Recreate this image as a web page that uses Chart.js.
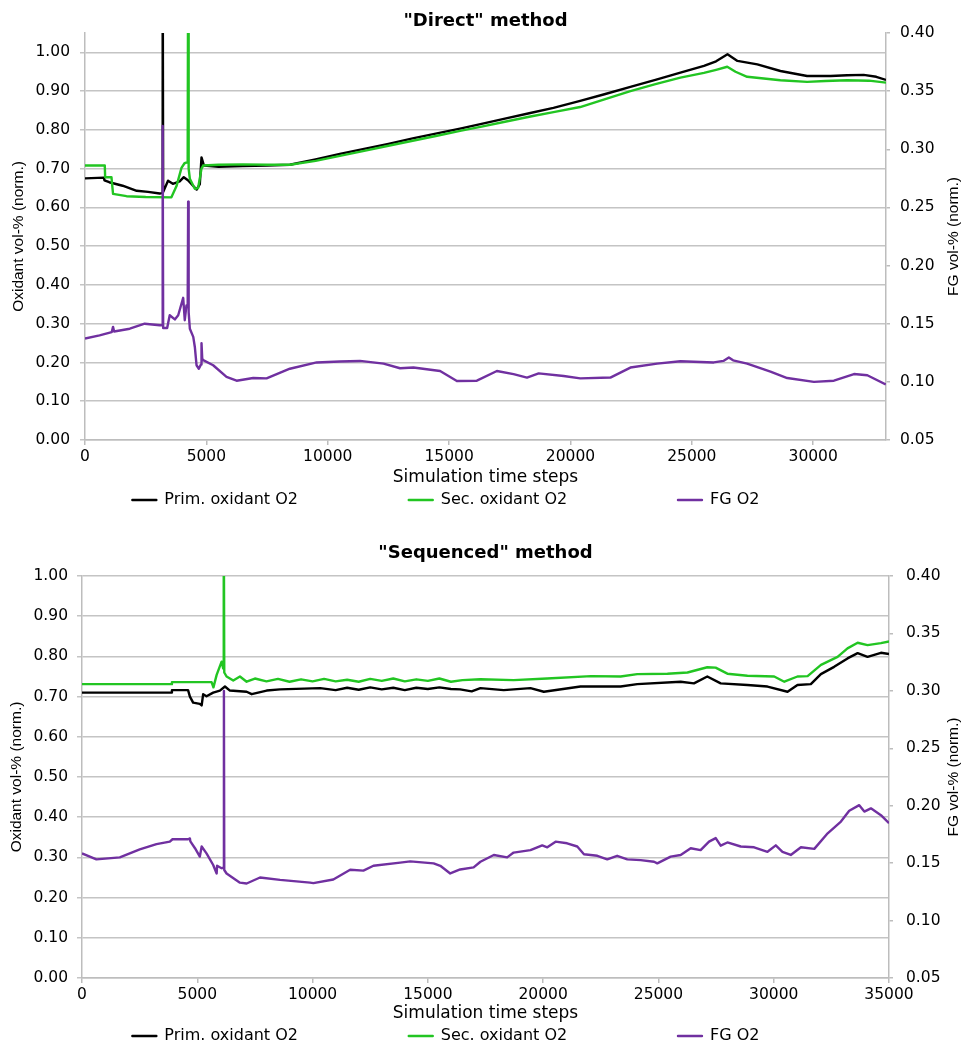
<!DOCTYPE html>
<html><head><meta charset="utf-8">
<script src="https://cdn.jsdelivr.net/npm/chart.js@4.4.1/dist/chart.umd.min.js"></script>
<style>
html,body{margin:0;padding:0;background:#fff;overflow:hidden;width:963px;height:1046px;}
#c1{position:absolute;left:0;top:0;}
#c2{position:absolute;left:0;top:520px;}
</style></head><body>
<canvas id="c1" width="963" height="520"></canvas>
<canvas id="c2" width="963" height="540"></canvas>
<script>
// ---------- DATA ----------
const seriesNames = ['Prim. oxidant O2', 'Sec. oxidant O2', 'FG O2'];
const chartTitles = ['"Direct" method', '"Sequenced" method'];
const xTitle = 'Simulation time steps';
const yLeftTitle = 'Oxidant vol-% (norm.)';
const yRightTitle = 'FG vol-% (norm.)';

// "Direct" method
const directPrimX = [0,780,800,1000,1550,2130,2600,3080,3180,3200,
  3220,3420,3620,3900,4070,4240,4450,4600,4730,4800,
  4900,5500,6500,7500,8440,9500,10500,11500,12500,13500,
  14500,15500,16290,17300,18300,19300,20400,21400,22470,23500,
  24530,25500,26000,26470,26880,27700,28650,29750,30720,31400,
  32080,32600,33000];
const directPrimY = [0.675,0.677,0.670,0.665,0.656,0.643,0.640,0.636,0.637,1.3,
  0.640,0.669,0.661,0.667,0.678,0.670,0.656,0.646,0.660,0.729,
  0.708,0.705,0.707,0.708,0.710,0.724,0.738,0.751,0.764,0.778,
  0.791,0.804,0.815,0.829,0.843,0.857,0.875,0.892,0.911,0.929,
  0.948,0.965,0.977,0.995,0.978,0.969,0.952,0.939,0.939,0.941,
  0.942,0.937,0.929];
const directSecX = [0,815,830,1090,1155,1710,2500,3560,3770,3975,
  4100,4200,4230,4250,4270,4320,4525,4660,4800,4870,
  5500,6500,7500,8440,9500,10500,11500,12500,13500,14500,
  15500,16290,17300,18300,19300,20400,21400,22470,23500,24530,
  25500,26000,26460,26800,27280,28650,29750,30500,31400,32300,
  33000];
const directSecY = [0.708,0.708,0.678,0.678,0.635,0.629,0.627,0.626,0.655,0.702,
  0.714,0.716,0.716,1.3,0.700,0.674,0.648,0.650,0.700,0.708,
  0.710,0.711,0.710,0.710,0.720,0.733,0.746,0.759,0.772,0.785,
  0.798,0.808,0.821,0.834,0.846,0.859,0.879,0.900,0.918,0.935,
  0.947,0.955,0.963,0.950,0.937,0.928,0.924,0.926,0.928,0.927,
  0.922];
const directFgX = [0,600,1100,1155,1200,1845,2460,3080,3180,3200,
  3220,3385,3490,3700,3840,4045,4110,4180,4230,4250,
  4270,4320,4460,4525,4595,4690,4780,4800,4830,4870,
  5280,5830,6245,6930,7480,8440,9545,10500,11330,12300,
  12980,13530,14630,15320,16145,16970,17655,18210,18690,19720,
  20405,21645,22470,23570,24530,25905,26300,26525,26700,27280,
  28240,28930,30030,30855,31680,32230,32990];
const directFgY = [0.1373,0.1400,0.1427,0.1473,0.1433,0.1457,0.1500,0.1487,0.1487,0.3200,
  0.1463,0.1463,0.1573,0.1537,0.1573,0.1723,0.1530,0.1657,0.1650,0.2550,
  0.1600,0.1457,0.1387,0.1300,0.1143,0.1113,0.1150,0.1333,0.1200,0.1187,
  0.1143,0.1043,0.1010,0.1033,0.1030,0.1113,0.1167,0.1175,0.1180,0.1157,
  0.1117,0.1123,0.1093,0.1007,0.1010,0.1093,0.1067,0.1037,0.1073,0.1050,
  0.1030,0.1037,0.1123,0.1157,0.1177,0.1167,0.1180,0.1210,0.1185,0.1157,
  0.1087,0.1033,0.1000,0.1010,0.1067,0.1057,0.0977];

// "Sequenced" method
const seqPrimX = [0,3880,3900,4600,4680,4820,5110,5190,5255,5400,
  5690,5980,6200,6415,7140,7360,8010,8590,10330,11000,
  11500,12000,12500,13000,13500,14000,14500,15000,15500,16000,
  16400,16900,17280,18290,19450,20030,21620,23360,24080,25965,
  26540,27120,27700,28860,29730,30600,31030,31610,32045,32620,
  33200,33640,34070,34650,35000];
const seqPrimY = [0.710,0.710,0.716,0.716,0.700,0.685,0.682,0.678,0.706,0.701,
  0.710,0.715,0.725,0.715,0.712,0.706,0.715,0.718,0.721,0.716,
  0.722,0.717,0.723,0.718,0.722,0.716,0.722,0.719,0.723,0.719,
  0.718,0.713,0.721,0.716,0.721,0.712,0.725,0.725,0.731,0.737,
  0.733,0.750,0.733,0.729,0.725,0.712,0.729,0.731,0.756,0.774,
  0.795,0.808,0.799,0.809,0.806];
const seqSecX = [0,3880,3900,5620,5700,5840,6055,6125,6140,6155,
  6170,6270,6560,6850,7140,7500,8000,8500,9000,9500,
  10000,10500,11000,11500,12000,12500,13000,13500,14000,14500,
  15000,15500,16000,16500,17280,18720,20170,22080,23360,24080,
  25390,26260,27120,27480,27990,28860,30020,30460,31030,31470,
  32050,32770,33200,33640,34070,34650,35000];
const seqSecY = [0.731,0.731,0.736,0.736,0.723,0.754,0.787,0.770,0.780,1.2,
  0.760,0.750,0.740,0.750,0.737,0.745,0.738,0.744,0.737,0.743,
  0.738,0.744,0.738,0.742,0.737,0.744,0.739,0.745,0.738,0.743,
  0.739,0.745,0.737,0.741,0.743,0.741,0.745,0.751,0.750,0.756,
  0.757,0.760,0.773,0.772,0.757,0.752,0.750,0.737,0.750,0.751,
  0.779,0.799,0.820,0.834,0.828,0.833,0.837];
const seqFgX = [0,625,1640,2505,3230,3810,3925,4605,4680,4700,
  4900,5110,5190,5400,5690,5840,5860,6055,6140,6155,
  6170,6270,6850,7140,7720,8590,9890,10035,10900,11630,
  12205,12640,13800,14235,15250,15540,15970,16400,16985,17280,
  17860,18440,18720,19450,19960,20180,20540,21040,21480,21770,
  22350,22780,23210,23650,24230,24810,24950,25530,25965,26400,
  26830,27195,27485,27700,27990,28570,29150,29730,30090,30380,
  30740,31180,31760,32340,32915,33275,33710,33930,34215,34650,
  35000];
const seqFgY = [0.1585,0.1533,0.1550,0.1620,0.1666,0.1687,0.1708,0.1708,0.1715,0.1690,
  0.1630,0.1557,0.1645,0.1585,0.1484,0.1410,0.1477,0.1456,0.1460,0.3000,
  0.1440,0.1410,0.1330,0.1323,0.1375,0.1354,0.1330,0.1326,0.1358,0.1442,
  0.1435,0.1477,0.1505,0.1515,0.1498,0.1477,0.1410,0.1445,0.1463,0.1512,
  0.1571,0.1550,0.1592,0.1613,0.1655,0.1638,0.1687,0.1673,0.1645,0.1578,
  0.1564,0.1533,0.1564,0.1533,0.1526,0.1512,0.1498,0.1557,0.1571,0.1630,
  0.1613,0.1687,0.1718,0.1652,0.1680,0.1645,0.1638,0.1599,0.1655,0.1599,
  0.1571,0.1638,0.1624,0.1760,0.1862,0.1956,0.2005,0.1949,0.1977,0.1918,
  0.1848];

// axis ranges / ticks
const xMaxes = [33000, 35000];
const xTicksList = [[0,5000,10000,15000,20000,25000,30000],
                    [0,5000,10000,15000,20000,25000,30000,35000]];
const yLeftMaxes = [1.05, 1.00];
const yLeftStep = 0.1;
const yRightRange = [0.05, 0.40];
const yRightStep = 0.05;

// ---------- STYLE ----------
const seriesColors = ['#000000', '#22c522', '#7030a0'];
const gridColor = '#c4c4c4';
const axisColor = '#bdbdbd';
const legendGap = [21, 21, 14];
Chart.defaults.font.family = '"DejaVu Sans", sans-serif';
Chart.defaults.color = '#000';

const rightTitlePlugin = {
  id: 'rightTitle',
  afterDraw(chart, args, opts) {
    const s = chart.scales.y1;
    const ctx = chart.ctx;
    ctx.save();
    ctx.font = opts.font;
    ctx.fillStyle = '#000';
    ctx.textAlign = 'center';
    ctx.textBaseline = 'middle';
    ctx.translate(opts.x, (s.top + s.bottom) / 2);
    ctx.rotate(-Math.PI / 2);
    ctx.fillText(opts.text, 0, 0);
    ctx.restore();
  }
};

const pts = (xs, ys) => xs.map((x, i) => ({x: x, y: ys[i]}));

function makeChart(id, idx, series, L) {
  const [prim, sec, fg] = series;
  return new Chart(document.getElementById(id), {
    type: 'line',
    data: {
      datasets: [
        {label: seriesNames[0], data: pts(prim[0], prim[1]), borderColor: seriesColors[0], backgroundColor: seriesColors[0], yAxisID: 'y', order: 3},
        {label: seriesNames[1], data: pts(sec[0], sec[1]), borderColor: seriesColors[1], backgroundColor: seriesColors[1], yAxisID: 'y', order: 2},
        {label: seriesNames[2], data: pts(fg[0], fg[1]), borderColor: seriesColors[2], backgroundColor: seriesColors[2], yAxisID: 'y1', order: 1}
      ]
    },
    options: {
      responsive: false,
      animation: false,
      events: [],
      elements: {line: {borderWidth: 2.4, tension: 0, borderJoinStyle: 'round'}, point: {radius: 0}},
      layout: {padding: {left: 0, right: 0, top: 0, bottom: L.padBottom}},
      scales: {
        x: {
          type: 'linear', min: 0, max: xMaxes[idx], bounds: 'data',
          afterBuildTicks: s => { s.ticks = xTicksList[idx].map(v => ({value: v})); },
          ticks: {autoSkip: false, maxRotation: 0, padding: 3,
                  font: {size: 15.5}, color: '#000', callback: v => String(v)},
          grid: {drawOnChartArea: false, tickLength: 5, color: axisColor, lineWidth: 1.5},
          border: {color: axisColor, width: 1.5},
          title: {display: true, text: xTitle, font: {size: 17}, color: '#000', padding: {top: 2, bottom: 0}},
          afterFit: s => { s.height = L.xH; }
        },
        y: {
          position: 'left', min: 0, max: yLeftMaxes[idx], bounds: 'data',
          ticks: {stepSize: yLeftStep, includeBounds: false, padding: L.yPad, font: {size: 15.5}, color: '#000',
                  callback: v => Number(v).toFixed(2)},
          grid: {color: gridColor, lineWidth: 1.5, tickLength: 5},
          border: {color: axisColor, width: 1.5},
          title: {display: true, text: yLeftTitle, font: {family: '"Liberation Sans", Arial, sans-serif', size: 15.5},
                  color: '#000', padding: {top: L.yTitlePad, bottom: 0}},
          afterFit: s => { s.width = L.yW; }
        },
        y1: {
          position: 'right', min: yRightRange[0], max: yRightRange[1], bounds: 'data',
          ticks: {stepSize: yRightStep, includeBounds: false, padding: L.y1Pad, font: {size: 15.5}, color: '#000',
                  callback: v => Number(v).toFixed(2)},
          grid: {drawOnChartArea: false, color: axisColor, lineWidth: 1.5, tickLength: 4},
          border: {color: axisColor, width: 1.5},
          title: {display: false, text: yRightTitle},
          afterFit: s => { s.width = L.y1W; }
        }
      },
      plugins: {
        title: {display: true, text: chartTitles[idx], color: '#000', fullSize: false,
                font: {size: 18, weight: 'bold'}, padding: {top: L.tTop, bottom: L.tBot}},
        legend: {
          position: 'bottom',
          labels: {
            boxWidth: 24, boxHeight: 0, padding: 4, color: '#000', font: {size: 16},
            sort: (a, b) => a.datasetIndex - b.datasetIndex,
            generateLabels: chart => Chart.defaults.plugins.legend.labels.generateLabels(chart)
              .map(it => Object.assign(it, {text: it.text + ' '.repeat(legendGap[it.datasetIndex])}))
          }
        },
        tooltip: {enabled: false},
        rightTitle: {text: yRightTitle, x: L.rtX, font: '15.5px "Liberation Sans", Arial, sans-serif'}
      }
    },
    plugins: [rightTitlePlugin]
  });
}

makeChart('c1', 0, [[directPrimX, directPrimY], [directSecX, directSecY], [directFgX, directFgY]],
  {padBottom: 2, xH: 48, yW: 85, y1W: 77, yPad: 10, y1Pad: 10, yTitlePad: 9.7, tTop: 11, tBot: 0.4, rtX: 954});
makeChart('c2', 1, [[seqPrimX, seqPrimY], [seqSecX, seqSecY], [seqFgX, seqFgY]],
  {padBottom: 6, xH: 46, yW: 82, y1W: 74, yPad: 9, y1Pad: 13, yTitlePad: 7.4, tTop: 22.2, tBot: 12.2, rtX: 954});
</script></body></html>
